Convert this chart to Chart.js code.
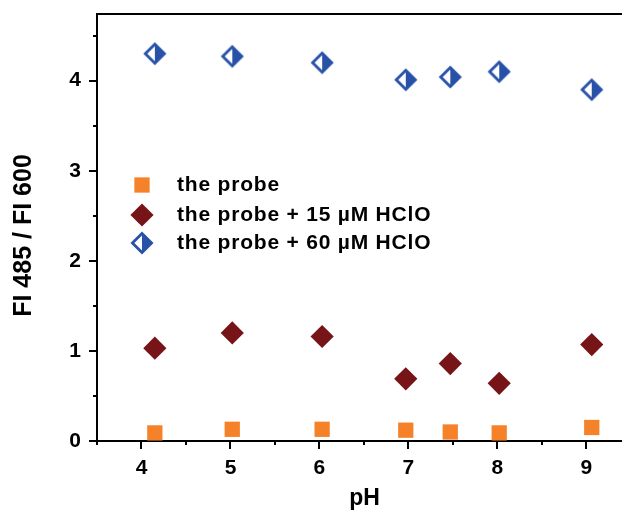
<!DOCTYPE html>
<html>
<head>
<meta charset="utf-8">
<script src="https://cdn.jsdelivr.net/npm/chart.js@4/dist/chart.umd.min.js"></script>
<style>
  html, body { margin: 0; padding: 0; background: #fff; overflow: hidden; }
  #wrap { width: 622px; height: 514px; position: relative; }
</style>
</head>
<body>
<div id="wrap"><canvas id="c"></canvas></div>
<script>
// pH of each measurement (shared by all three series)
const phValues = [4.15, 5.02, 6.03, 6.97, 7.47, 8.02, 9.06];
// FI485 / FI600 ratios
const probeRatio  = [0.09, 0.13, 0.13, 0.12, 0.10, 0.09, 0.15];
const hclo15Ratio = [1.03, 1.20, 1.16, 0.69, 0.86, 0.64, 1.07];
const hclo60Ratio = [4.30, 4.27, 4.20, 4.01, 4.04, 4.10, 3.90];
const seriesLabels = ['the probe', 'the probe + 15 \u00B5M HClO', 'the probe + 60 \u00B5M HClO'];
const xTitle = 'pH';
const yTitle = 'FI 485 / FI 600';
const xTickValues = [4, 5, 6, 7, 8, 9];
const yTickValues = [0, 1, 2, 3, 4];
const xMinorTicks = [3.5, 4.5, 5.5, 6.5, 7.5, 8.5];
const yMinorTicks = [0.5, 1.5, 2.5, 3.5, 4.5];

const ORANGE = 'rgb(245,130,40)';
const WINE = 'rgb(118,20,24)';
const BLUE = 'rgb(40,82,168)';
const FONT = '"Liberation Sans", Arial, sans-serif';

Chart.defaults.font.family = FONT;
Chart.defaults.color = '#000';

// diamond with the right half filled and the left half left open
function halfDiamond(color) {
  const c = document.createElement('canvas');
  c.width = 26; c.height = 26;
  const g = c.getContext('2d');
  const m = 13, r = 9.6;
  g.fillStyle = '#fff';
  g.beginPath();
  g.moveTo(m, m - r); g.lineTo(m + r, m); g.lineTo(m, m + r); g.lineTo(m - r, m); g.closePath();
  g.fill();
  g.fillStyle = color;
  g.beginPath();
  g.moveTo(m, m - r); g.lineTo(m + r, m); g.lineTo(m, m + r); g.closePath();
  g.fill();
  g.strokeStyle = color;
  g.lineWidth = 2.8;
  g.lineJoin = 'miter';
  g.beginPath();
  g.moveTo(m, m - r); g.lineTo(m + r, m); g.lineTo(m, m + r); g.lineTo(m - r, m); g.closePath();
  g.stroke();
  return c;
}
const halfBlue = halfDiamond(BLUE);

function pairs(ys) { return phValues.map((x, i) => ({ x, y: ys[i] })); }

function fixBox(size) {
  return s => {
    if (s.isHorizontal()) s.height = size; else s.width = size;
    s.paddingTop = 0; s.paddingBottom = 0; s.paddingLeft = 0; s.paddingRight = 0;
  };
}

// outward major/minor ticks, the top frame line and the axis titles
const frameAndTicks = {
  id: 'frameAndTicks',
  afterDraw(chart) {
    const { ctx, chartArea: a, scales: { x, y } } = chart;
    ctx.save();
    ctx.strokeStyle = '#000';
    ctx.lineWidth = 2;
    ctx.beginPath();
    ctx.moveTo(a.left - 1, a.top);
    ctx.lineTo(a.right, a.top);
    ctx.stroke();
    ctx.beginPath();
    xTickValues.forEach(v => { const p = Math.round(x.getPixelForValue(v)); ctx.moveTo(p, a.bottom); ctx.lineTo(p, a.bottom + 8); });
    xMinorTicks.forEach(v => { const p = Math.round(x.getPixelForValue(v)); ctx.moveTo(p, a.bottom); ctx.lineTo(p, a.bottom + 4); });
    yTickValues.forEach(v => { const p = Math.round(y.getPixelForValue(v)); ctx.moveTo(a.left, p); ctx.lineTo(a.left - 8, p); });
    yMinorTicks.forEach(v => { const p = Math.round(y.getPixelForValue(v)); ctx.moveTo(a.left, p); ctx.lineTo(a.left - 4, p); });
    ctx.stroke();

    ctx.fillStyle = '#000';
    ctx.textAlign = 'center';
    ctx.textBaseline = 'middle';
    ctx.font = 'bold 23px ' + FONT;
    ctx.fillText(xTitle, (a.left + a.right) / 2 + 5, a.bottom + 58);
    ctx.translate(24, (a.top + a.bottom) / 2 + 8);
    ctx.rotate(-Math.PI / 2);
    ctx.font = 'bold 25px ' + FONT;
    ctx.fillText(yTitle, 0, 0);
    ctx.restore();
  }
};

// legend block drawn inside the plot area
const innerLegend = {
  id: 'innerLegend',
  afterDatasetsDraw(chart) {
    const { ctx, chartArea: a } = chart;
    const markX = a.left + 45, textX = a.left + 80;
    const rows = [a.top + 171, a.top + 201, a.top + 229];
    ctx.save();
    chart.data.datasets.forEach((ds, i) => {
      const opts = {
        pointStyle: ds.pointStyle, radius: ds.pointRadius, rotation: 0,
        borderWidth: 0
      };
      ctx.fillStyle = ds.backgroundColor;
      ctx.strokeStyle = ds.borderColor;
      Chart.helpers.drawPoint(ctx, opts, markX, rows[i]);
      ctx.fillStyle = '#000';
      ctx.font = 'bold 21px ' + FONT;
      if ('letterSpacing' in ctx) ctx.letterSpacing = '0.8px';
      ctx.textBaseline = 'middle';
      ctx.textAlign = 'left';
      ctx.fillText(ds.label, textX, rows[i]);
      if ('letterSpacing' in ctx) ctx.letterSpacing = '0px';
    });
    ctx.restore();
  }
};

new Chart(document.getElementById('c'), {
  type: 'scatter',
  data: {
    datasets: [
      { label: seriesLabels[0], data: pairs(probeRatio), pointStyle: 'rect', pointRadius: 10.8,
        backgroundColor: ORANGE, borderColor: ORANGE, borderWidth: 0 },
      { label: seriesLabels[1], data: pairs(hclo15Ratio), pointStyle: 'rectRot', pointRadius: 11.6,
        backgroundColor: WINE, borderColor: WINE, borderWidth: 0 },
      { label: seriesLabels[2], data: pairs(hclo60Ratio), pointStyle: halfBlue, pointRadius: 12,
        backgroundColor: BLUE, borderColor: BLUE, borderWidth: 0 }
    ]
  },
  options: {
    responsive: true,
    maintainAspectRatio: false,
    animation: false,
    events: [],
    layout: { autoPadding: false, padding: { top: 14, right: 0, bottom: 0, left: 0 } },
    plugins: { legend: { display: false }, tooltip: { enabled: false } },
    scales: {
      x: {
        type: 'linear', min: 3.5, max: 9.4,
        afterBuildTicks: s => { s.ticks = xTickValues.map(v => ({ value: v })); },
        afterFit: fixBox(73),
        grid: { display: false, drawTicks: false },
        border: { display: true, color: '#000', width: 2 },
        ticks: { padding: 15, font: { size: 21, weight: 'bold' }, color: '#000', maxRotation: 0 },
        title: { display: false }
      },
      y: {
        type: 'linear', min: 0, max: 4.74,
        afterBuildTicks: s => { s.ticks = yTickValues.map(v => ({ value: v })); },
        afterFit: fixBox(97),
        grid: { display: false, drawTicks: false },
        border: { display: true, color: '#000', width: 2 },
        ticks: { padding: 16, font: { size: 21, weight: 'bold' }, color: '#000' },
        title: { display: false }
      }
    }
  },
  plugins: [frameAndTicks, innerLegend]
});
</script>
</body>
</html>
